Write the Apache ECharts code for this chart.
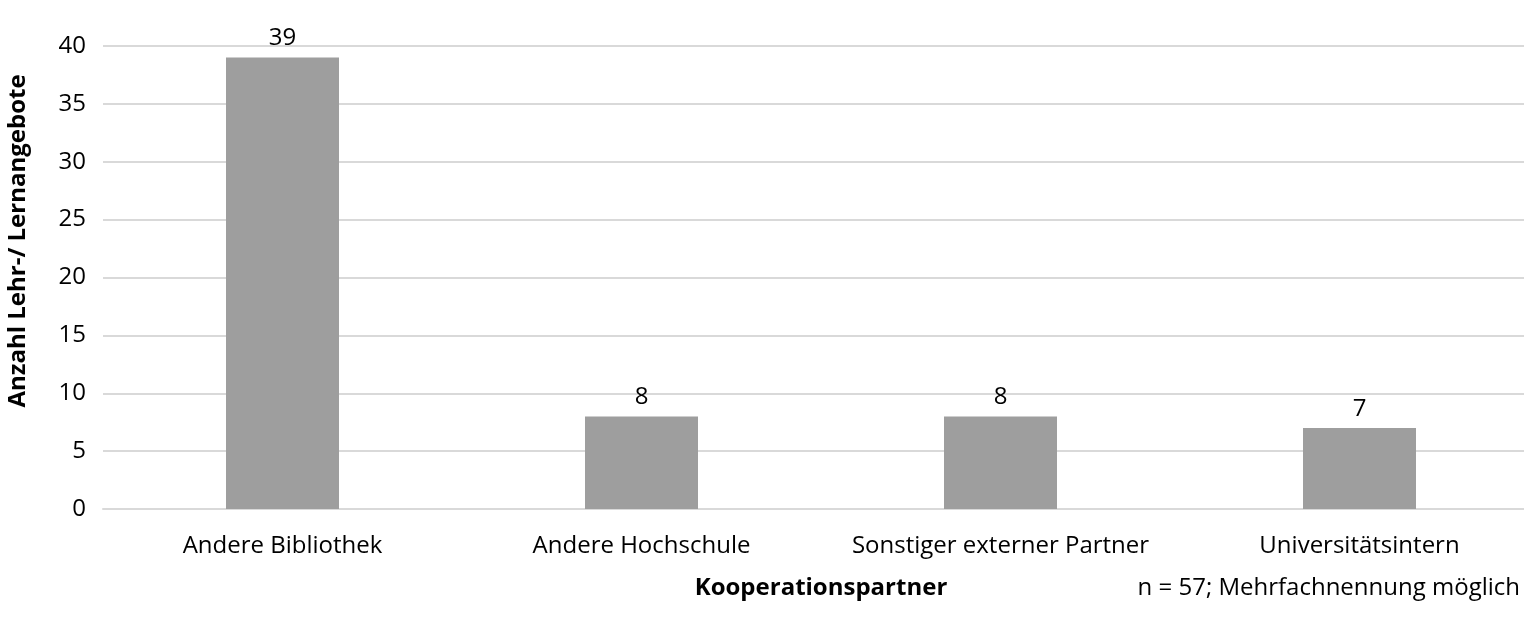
<!DOCTYPE html>
<html>
<head>
<meta charset="utf-8">
<script src="https://cdn.jsdelivr.net/npm/echarts@6/dist/echarts.min.js"></script>
<style>
  html, body { margin: 0; padding: 0; background: #fff; }
  #chart { width: 1524px; height: 631px; }
</style>
</head>
<body>
<div id="chart"></div>
<script>
const categories = ['Andere Bibliothek', 'Andere Hochschule', 'Sonstiger externer Partner', 'Universitätsintern'];
const counts = [39, 8, 8, 7];
const yMin = 0, yMax = 40, yStep = 5;

const FONT = '"Open Sans"';
let chart = echarts.init(document.getElementById('chart'));
let option = {
  animation: false,
  textStyle: { fontFamily: FONT },
  // plot area runs past the right edge, as in the cropped original
  grid: { left: 103, top: 46, width: 1436, height: 463, outerBoundsMode: 'none', containLabel: false },
  xAxis: {
    type: 'category',
    data: categories,
    name: 'Kooperationspartner',
    nameLocation: 'middle',
    nameGap: 67,
    nameTextStyle: { fontFamily: FONT, fontWeight: 'bold', fontSize: 24, color: '#000' },
    axisLine: { show: true, lineStyle: { color: '#d9d9d9', width: 2 } },
    axisTick: { show: false },
    axisLabel: { interval: 0, fontFamily: FONT, fontSize: 24, color: '#000', margin: 25 }
  },
  yAxis: {
    type: 'value',
    min: yMin, max: yMax, interval: yStep,
    axisLine: { show: false },
    axisTick: { show: false },
    axisLabel: { fontFamily: FONT, fontSize: 24, color: '#000', margin: 17 },
    splitLine: { lineStyle: { color: '#d9d9d9', width: 2 } }
  },
  graphic: [{
    type: 'text',
    x: 18,
    y: 241,
    rotation: Math.PI / 2,
    style: {
      text: 'Anzahl Lehr-/ Lernangebote', font: 'bold 24px ' + FONT, fill: '#000',
      align: 'center', verticalAlign: 'middle'
    }
  }, {
    type: 'text',
    right: 4,
    top: 576,
    style: { text: 'n = 57; Mehrfachnennung möglich', font: '24px ' + FONT, fill: '#000' }
  }],
  series: [{
    type: 'bar',
    data: counts,
    barWidth: 113,
    itemStyle: { color: '#9e9e9e' },
    label: { show: true, position: 'top', distance: 7, fontFamily: FONT, fontSize: 24, color: '#000' }
  }]
};
chart.setOption(option);
</script>
</body>
</html>
